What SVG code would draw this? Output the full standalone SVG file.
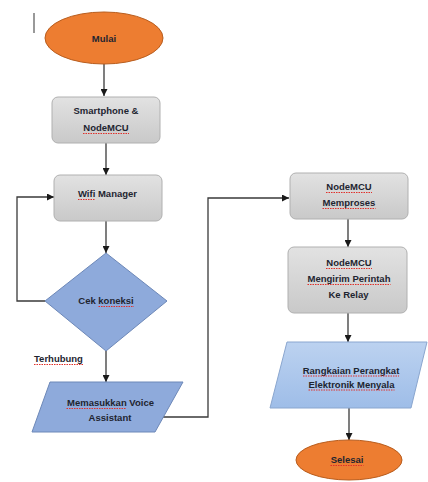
<svg xmlns="http://www.w3.org/2000/svg" width="428" height="482" viewBox="0 0 428 482">
<defs>
<linearGradient id="gGray" x1="0" y1="0" x2="0" y2="1"><stop offset="0" stop-color="#e2e2e2"/><stop offset="1" stop-color="#c9c9c9"/></linearGradient>
<linearGradient id="gBlue" x1="0" y1="0" x2="0" y2="1"><stop offset="0" stop-color="#bcd2f0"/><stop offset="1" stop-color="#9ebde8"/></linearGradient>
<marker id="arr" viewBox="0 0 10 10" refX="10" refY="5" markerWidth="7" markerHeight="7" markerUnits="userSpaceOnUse" orient="auto"><path d="M0,0 L10,5 L0,10 z" fill="#1a1a1a"/></marker>
<style>
.term{fill:#ed7d31;stroke:#b85d1e;stroke-width:1}
.proc{fill:url(#gGray);stroke:#b0b0b0;stroke-width:1}
.dec{fill:#8eaadb;stroke:#6d88b8;stroke-width:1}
.io{fill:#8eaadb;stroke:#6d88b8;stroke-width:1}
.io2{fill:url(#gBlue);stroke:#8aa6cf;stroke-width:1}
.t{font-family:"Liberation Sans",Arial,sans-serif;font-size:9.5px;font-weight:bold;fill:#1e2530;text-anchor:middle}
.c{fill:none;stroke:#3a3a3a;stroke-width:1.3}
.sq{stroke:#e0302a;stroke-width:1;stroke-dasharray:1.5 1;fill:none}
</style>
</defs>
<line x1="34" y1="13" x2="34" y2="33" stroke="#555" stroke-width="1.2"/>
<g id="connectors">
<line class="c" x1="104" y1="64" x2="104" y2="96" marker-end="url(#arr)"/>
<line class="c" x1="106" y1="143" x2="106" y2="175" marker-end="url(#arr)"/>
<line class="c" x1="106" y1="221" x2="106" y2="253" marker-end="url(#arr)"/>
<polyline class="c" points="45,301 17,301 17,197 54,197" marker-end="url(#arr)"/>
<line class="c" x1="106" y1="351" x2="106" y2="382" marker-end="url(#arr)"/>
<polyline class="c" points="163,417 208,417 208,198 289,198" marker-end="url(#arr)"/>
<line class="c" x1="348" y1="219" x2="348" y2="247" marker-end="url(#arr)"/>
<line class="c" x1="348" y1="313" x2="348" y2="342" marker-end="url(#arr)"/>
<line class="c" x1="349" y1="408" x2="349" y2="440" marker-end="url(#arr)"/>
</g>
<g id="mulai">
<ellipse class="term" cx="104" cy="38" rx="59" ry="26"/>
<text class="t" x="104" y="41.5">Mulai</text>
</g>
<g id="smartphone">
<rect class="proc" x="52" y="97" width="108" height="46" rx="6"/>
<text class="t" x="106" y="114">Smartphone &amp;</text>
<text class="t" x="106" y="131">NodeMCU</text>
<line class="sq" x1="83" y1="133.5" x2="129" y2="133.5"/>
</g>
<g id="wifi">
<rect class="proc" x="54" y="175" width="108" height="46" rx="6"/>
<text class="t" x="107.5" y="197">Wifi Manager</text>
<line class="sq" x1="78" y1="199.5" x2="95.5" y2="199.5"/>
</g>
<g id="cek">
<polygon class="dec" points="106,253 167,301 106,351 45,301"/>
<text class="t" x="106" y="304">Cek koneksi</text>
<line class="sq" x1="98.5" y1="306.5" x2="134" y2="306.5"/>
</g>
<g id="terhubung-label">
<text class="t" x="34" y="362" style="text-anchor:start">Terhubung</text>
<line class="sq" x1="34" y1="364.5" x2="83.5" y2="364.5"/>
</g>
<g id="voice">
<polygon class="io" points="50,382 183,382 155,432 32,432"/>
<text class="t" x="110.5" y="406">Memasukkan Voice</text>
<text class="t" x="110" y="421">Assistant</text>
<line class="sq" x1="66.5" y1="408.5" x2="126.5" y2="408.5"/>
</g>
<g id="memproses">
<rect class="proc" x="290" y="173" width="118" height="46" rx="6"/>
<text class="t" x="349" y="190">NodeMCU</text>
<text class="t" x="349" y="206">Memproses</text>
<line class="sq" x1="326" y1="192.5" x2="372" y2="192.5"/>
<line class="sq" x1="322.5" y1="208.5" x2="375.5" y2="208.5"/>
</g>
<g id="mengirim">
<rect class="proc" x="288" y="247" width="119" height="66" rx="6"/>
<text class="t" x="349" y="266">NodeMCU</text>
<text class="t" x="349" y="282">Mengirim Perintah</text>
<text class="t" x="348.5" y="298">Ke Relay</text>
<line class="sq" x1="326" y1="268.5" x2="372" y2="268.5"/>
<line class="sq" x1="307.5" y1="284.5" x2="390.5" y2="284.5"/>
</g>
<g id="rangkaian">
<polygon class="io2" points="287,342 427,342 411,408 270,408"/>
<text class="t" x="351" y="373.5">Rangkaian Perangkat</text>
<text class="t" x="351.5" y="387.5">Elektronik Menyala</text>
<line class="sq" x1="303" y1="376" x2="399" y2="376"/>
<line class="sq" x1="308.5" y1="390" x2="394.5" y2="390"/>
</g>
<g id="selesai">
<ellipse class="term" cx="349" cy="460" rx="53" ry="20"/>
<text class="t" x="347" y="463">Selesai</text>
<line class="sq" x1="330.5" y1="465.5" x2="363.5" y2="465.5"/>
</g>
</svg>
